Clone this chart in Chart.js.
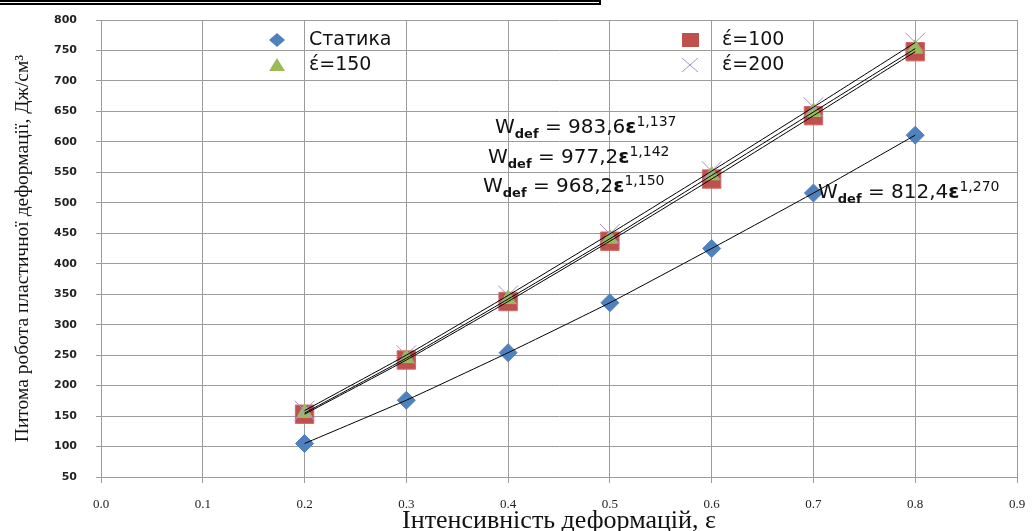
<!DOCTYPE html>
<html lang="uk">
<head>
    <meta charset="UTF-8" />
    <title>Питома робота пластичної деформації</title>
    <script src="https://cdn.jsdelivr.net/npm/chart.js"></script>
    <style>
        html, body {
            margin: 0;
            padding: 0;
            background: #fff;
        }
        .wrap {
            position: relative;
            width: 1032px;
            height: 531px;
            overflow: hidden;
        }
        .rule-outer {
            position: absolute;
            left: 0;
            top: 0;
            width: 601px;
            height: 2px;
            background: #000;
        }
        .rule-inner {
            position: absolute;
            left: 0;
            top: 3px;
            width: 601px;
            height: 2px;
            background: #000;
        }
        .rule-side {
            position: absolute;
            left: 599px;
            top: 0;
            width: 2px;
            height: 5px;
            background: #000;
        }
        canvas {
            position: absolute;
            left: 0;
            top: 0;
        }
    </style>
</head>
<body>
    <div class="wrap">
        <canvas id="chart" width="1032" height="531"></canvas>
        <div class="rule-outer"></div>
        <div class="rule-inner"></div>
        <div class="rule-side"></div>
    </div>

    <script>
        // strain intensity (x) and specific plastic work (y)
        const strain = [0.2, 0.3, 0.4, 0.5, 0.6, 0.7, 0.8];
        const staticW = [105, 176, 254, 336, 425, 516, 611];
        const rate100W = [153, 242, 338, 437, 539, 643, 748];
        const rate150W = [155, 245, 342, 441, 545, 649, 753];
        const rate200W = [159, 250, 348, 449, 552, 657, 763];

        const seriesNames = ['Статика', 'έ=100', 'έ=150', 'έ=200'];
        const eqCoef = ['983,6', '977,2', '968,2', '812,4'];
        const eqPow = ['1,137', '1,142', '1,150', '1,270'];

        const xTitle = 'Інтенсивність деформацій, ε';
        const yTitle = 'Питома робота пластичної деформації, Дж/см³';

        const SANS = '"DejaVu Sans", Verdana, sans-serif';
        const SERIF = '"Liberation Serif", "Times New Roman", serif';

        const colors = {
            stat: '#4F81BD',
            r100: '#C0504D',
            r150: '#9BBB59',
            r200: '#A393C9'
        };

        function pts(ys) {
            return strain.map((x, i) => ({ x: x, y: ys[i] }));
        }

        function trend(ys) {
            return {
                type: 'line',
                data: pts(ys),
                borderColor: '#000',
                borderWidth: 1,
                pointRadius: 0,
                fill: false,
                tension: 0.15,
                order: 0
            };
        }

        // little legend + trend equations, drawn on the canvas
        function marker(ctx, kind, x, y) {
            ctx.save();
            if (kind === 0) {
                ctx.fillStyle = colors.stat;
                ctx.beginPath();
                ctx.moveTo(x - 8, y); ctx.lineTo(x, y - 7); ctx.lineTo(x + 8, y); ctx.lineTo(x, y + 7);
                ctx.closePath(); ctx.fill();
            } else if (kind === 1) {
                ctx.fillStyle = colors.r100;
                ctx.fillRect(x - 8, y - 7, 17, 14);
            } else if (kind === 2) {
                ctx.fillStyle = colors.r150;
                ctx.beginPath();
                ctx.moveTo(x, y - 7); ctx.lineTo(x + 8, y + 6); ctx.lineTo(x - 8, y + 6);
                ctx.closePath(); ctx.fill();
            } else {
                ctx.strokeStyle = colors.r200;
                ctx.lineWidth = 1;
                ctx.beginPath();
                ctx.moveTo(x - 8, y - 7); ctx.lineTo(x + 8, y + 7);
                ctx.moveTo(x + 8, y - 7); ctx.lineTo(x - 8, y + 7);
                ctx.stroke();
            }
            ctx.restore();
        }

        function drawEq(ctx, x, y, coef, pow) {
            let cx = x;
            const part = (t, font, dy) => {
                ctx.font = font;
                ctx.fillText(t, cx, y + dy);
                cx += ctx.measureText(t).width;
            };
            part('W', '20px ' + SANS, 0);
            part('def', 'bold 13px ' + SANS, 5);
            part(' = ' + coef, '20px ' + SANS, 0);
            part('ε', 'bold 20px ' + SANS, 0);
            part(pow, '14px ' + SANS, -7);
        }

        const overlay = {
            id: 'overlay',
            afterDraw(chart) {
                const ctx = chart.ctx;
                ctx.save();
                ctx.fillStyle = '#111';
                ctx.textBaseline = 'alphabetic';
                ctx.textAlign = 'left';

                // legend, two columns like the original
                const legendPos = [[277, 40], [690, 40], [277, 65], [690, 65]];
                [0, 1, 2, 3].forEach(i => {
                    const [mx, my] = legendPos[i];
                    marker(ctx, i, mx, my);
                    ctx.font = '19px ' + SANS;
                    ctx.fillStyle = '#111';
                    ctx.fillText(seriesNames[i], mx + 32, my + 5);
                });

                // trend equations
                ctx.fillStyle = '#111';
                drawEq(ctx, 495, 133, eqCoef[0], eqPow[0]);
                drawEq(ctx, 488, 163, eqCoef[1], eqPow[1]);
                drawEq(ctx, 483, 192, eqCoef[2], eqPow[2]);
                drawEq(ctx, 818, 198, eqCoef[3], eqPow[3]);
                ctx.restore();
            }
        };

        const ctx = document.getElementById('chart').getContext('2d');
        const chart = new Chart(ctx, {
            type: 'scatter',
            data: {
                datasets: [
                    trend(rate200W),
                    trend(rate150W),
                    trend(rate100W),
                    trend(staticW),
                    {
                        label: seriesNames[3],
                        data: pts(rate200W),
                        pointStyle: 'crossRot',
                        pointRadius: 14,
                        borderColor: colors.r200,
                        borderWidth: 1,
                        order: 1
                    },
                    {
                        label: seriesNames[2],
                        data: pts(rate150W),
                        pointStyle: 'triangle',
                        pointRadius: 9,
                        backgroundColor: colors.r150,
                        borderColor: colors.r150,
                        borderWidth: 1,
                        order: 2
                    },
                    {
                        label: seriesNames[1],
                        data: pts(rate100W),
                        pointStyle: 'rect',
                        pointRadius: 13,
                        backgroundColor: colors.r100,
                        borderColor: '#D06A67',
                        borderWidth: 1,
                        order: 3
                    },
                    {
                        label: seriesNames[0],
                        data: pts(staticW),
                        pointStyle: 'rectRot',
                        pointRadius: 9,
                        backgroundColor: colors.stat,
                        borderColor: colors.stat,
                        borderWidth: 1,
                        order: 4
                    }
                ]
            },
            options: {
                responsive: false,
                animation: false,
                layout: { padding: { left: 0, right: 9, top: 20, bottom: 0 } },
                plugins: {
                    legend: { display: false },
                    tooltip: { enabled: false }
                },
                scales: {
                    x: {
                        type: 'linear',
                        min: 0,
                        max: 0.9,
                        afterFit: s => {
                            s.height = 54;
                            s.paddingLeft = 0;
                            s.paddingRight = 0;
                        },
                        ticks: {
                            stepSize: 0.1,
                            padding: 14,
                            color: '#222',
                            font: { family: SERIF, size: 13 },
                            callback: v => v.toFixed(1)
                        },
                        grid: { color: '#9c9c9c', tickLength: 6 },
                        border: { color: '#9c9c9c' },
                        title: {
                            display: true,
                            text: xTitle,
                            color: '#111',
                            font: { family: SERIF, size: 26, lineHeight: 0.75 },
                            padding: { top: 0, bottom: 0 }
                        }
                    },
                    y: {
                        type: 'linear',
                        min: 50,
                        max: 800,
                        afterFit: s => {
                            s.width = 101;
                            s.paddingTop = 0;
                            s.paddingBottom = 0;
                        },
                        ticks: {
                            stepSize: 50,
                            padding: 19,
                            color: '#222',
                            font: { family: SANS, size: 11, weight: 'bold' }
                        },
                        grid: { color: '#9c9c9c', tickLength: 5 },
                        border: { color: '#9c9c9c' },
                        title: {
                            display: true,
                            text: yTitle,
                            color: '#111',
                            font: { family: SERIF, size: 19.5 },
                            padding: { top: 11, bottom: 0 }
                        }
                    }
                }
            },
            plugins: [overlay]
        });
    </script>
</body>
</html>
